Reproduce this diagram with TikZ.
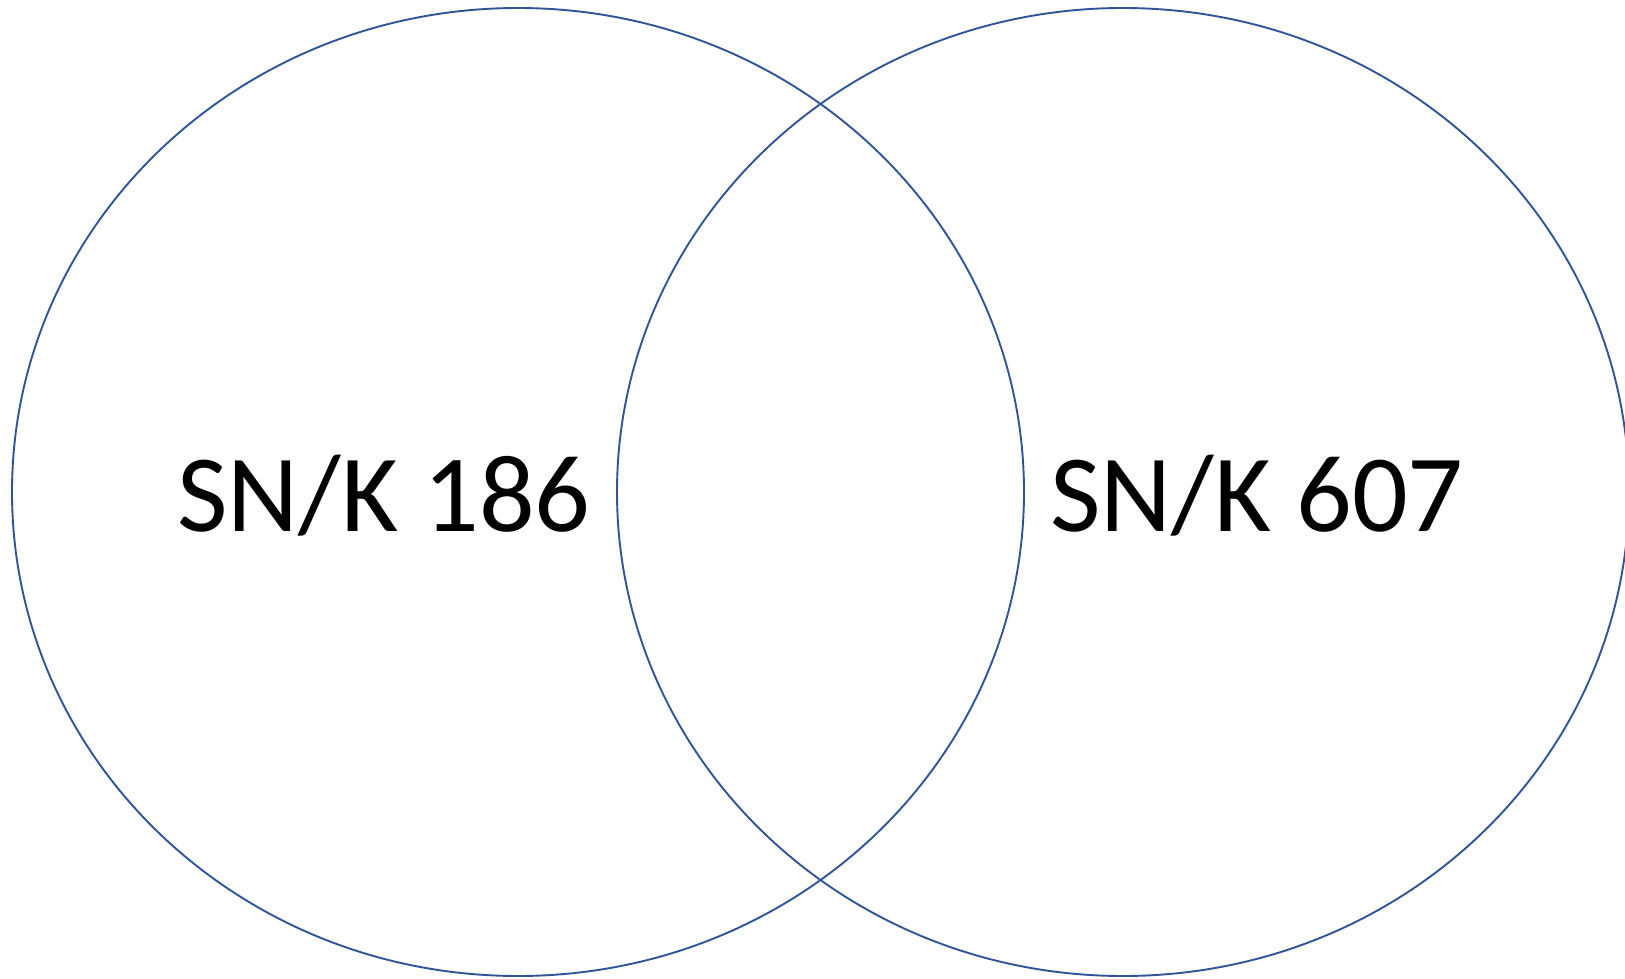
\documentclass[tikz,border=0pt]{standalone}
\usepackage{fontspec}
\setmainfont{Carlito}
\usepackage{tikz}
\usetikzlibrary{positioning}
\definecolor{ringblue}{RGB}{47,85,151}

\begin{document}
\begin{tikzpicture}[x=1pt,y=-1pt,
    ring/.style={draw=ringblue,line width=1.9pt},
    setname/.style={anchor=base,font=\fontsize{110}{120}\selectfont}]
        \useasboundingbox (0,0) rectangle (1625,979);
	\draw[ring] (518,492) ellipse (506pt and 484pt);
	\draw[ring] (1123,492) ellipse (506pt and 484pt);
	\node[setname] (left) at (384,531) {SN/K 186};
	\node[setname] (right) at (1257,531) {SN/K 607};
\end{tikzpicture}
\end{document}
